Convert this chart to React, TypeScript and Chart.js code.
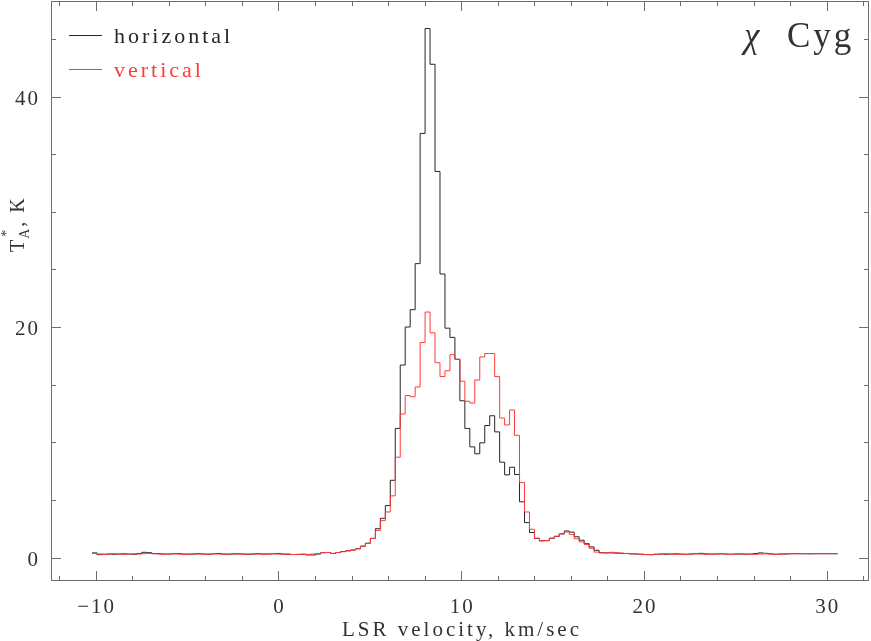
import React, { useEffect, useRef } from "react";
import { Chart, registerables } from "chart.js";

Chart.register(...registerables);

// Channel grid (km/s): left edge of first channel and channel width
const CH_START = -10.2;
const CH_WIDTH = 0.272;

// Antenna temperature T_A* (K), one value per channel
const horizontal = [
  0.40, 0.25, 0.28, 0.30, 0.28, 0.30, 0.32, 0.30, 0.28, 0.35,
  0.45, 0.42, 0.35, 0.33, 0.30, 0.30, 0.32, 0.34, 0.30, 0.28,
  0.30, 0.33, 0.30, 0.28, 0.32, 0.35, 0.30, 0.28, 0.30, 0.32,
  0.30, 0.28, 0.30, 0.33, 0.30, 0.30, 0.32, 0.35, 0.30, 0.28,
  0.26, 0.27, 0.28, 0.22, 0.22, 0.30, 0.42, 0.43, 0.35, 0.43,
  0.52, 0.58, 0.65, 0.76, 0.98, 1.24, 1.66, 2.5, 3.4, 4.5,
  6.7, 11.2, 16.7, 20.0, 21.5, 25.5, 36.8, 45.9, 42.8, 33.5,
  24.6, 19.9, 19.1, 17.2, 13.6, 11.2, 9.6, 9.0, 9.95, 11.45,
  12.3, 10.9, 8.27, 7.17, 7.83, 7.2, 4.83, 3.03, 2.17, 1.65,
  1.44, 1.46, 1.66, 1.83, 2.05, 2.3, 2.2, 1.8, 1.5, 1.2,
  0.92, 0.63, 0.42, 0.40, 0.40, 0.38, 0.36, 0.35, 0.32, 0.30,
  0.28, 0.25, 0.24, 0.28, 0.30, 0.28, 0.30, 0.32, 0.30, 0.28,
  0.30, 0.33, 0.36, 0.32, 0.30, 0.30, 0.32, 0.30, 0.28, 0.30,
  0.30, 0.28, 0.30, 0.35, 0.40, 0.36, 0.32, 0.28, 0.30, 0.30,
  0.32, 0.34, 0.33, 0.32, 0.32, 0.33, 0.33, 0.33, 0.33, 0.33,
];

const vertical = [
  0.35, 0.30, 0.28, 0.30, 0.32, 0.30, 0.28, 0.30, 0.32, 0.30,
  0.33, 0.35, 0.32, 0.30, 0.28, 0.30, 0.33, 0.30, 0.28, 0.30,
  0.32, 0.30, 0.28, 0.30, 0.32, 0.30, 0.28, 0.30, 0.33, 0.30,
  0.28, 0.30, 0.32, 0.30, 0.28, 0.30, 0.33, 0.30, 0.28, 0.30,
  0.26, 0.27, 0.28, 0.27, 0.30, 0.35, 0.42, 0.43, 0.36, 0.43,
  0.50, 0.58, 0.64, 0.75, 0.98, 1.22, 1.65, 2.35, 3.2, 3.95,
  5.35, 8.7, 12.45, 14.05, 13.95, 14.8, 18.65, 21.3, 19.5, 16.9,
  15.7, 16.2, 17.6, 17.2, 15.3, 13.56, 13.4, 15.4, 17.4, 17.7,
  17.7, 15.7, 12.1, 11.5, 12.8, 10.6, 6.5, 3.95, 2.45, 1.68,
  1.47, 1.48, 1.68, 1.85, 2.05, 2.22, 2.0, 1.62, 1.35, 1.13,
  0.8, 0.47, 0.40, 0.40, 0.45, 0.42, 0.38, 0.35, 0.32, 0.30,
  0.28, 0.26, 0.26, 0.28, 0.30, 0.32, 0.30, 0.28, 0.26, 0.28,
  0.30, 0.32, 0.30, 0.28, 0.28, 0.30, 0.32, 0.30, 0.28, 0.30,
  0.32, 0.30, 0.28, 0.28, 0.30, 0.32, 0.30, 0.28, 0.30, 0.32,
  0.33, 0.32, 0.33, 0.34, 0.33, 0.33, 0.33, 0.33, 0.33, 0.33,
];

const X_TICK_LABELS = [-10, 0, 10, 20, 30];
const Y_TICK_LABELS = [0, 20, 40];
const X_MIN = -12.446;
const X_MAX = 32.315;
const Y_MIN = -2.039;
const Y_MAX = 48.29;

const SERIES_NAMES = ["horizontal", "vertical"];
const COLORS = ["#262626", "#ff3a3a"];
const AXIS_COLOR = "#6e6e6e";
const TEXT_COLOR = "#333333";
const FONT = '"Liberation Serif", "DejaVu Serif", serif';

function toSteps(values: number[]) {
  const pts = values.map((y, i) => ({ x: CH_START + i * CH_WIDTH, y }));
  pts.push({ x: CH_START + values.length * CH_WIDTH, y: values[values.length - 1] });
  return pts;
}

const decorPlugin = {
  id: "decor",
  afterDraw(chart: any) {
    const ctx = chart.ctx as CanvasRenderingContext2D;
    const { left, right, top, bottom } = chart.chartArea;
    const xs = chart.scales.x;
    const ys = chart.scales.y;
    ctx.save();
    // frame
    ctx.strokeStyle = AXIS_COLOR;
    ctx.lineWidth = 1;
    ctx.strokeRect(left + 0.5, top + 0.5, right - left - 1, bottom - top - 1);
    // x ticks (minor every 2, major every 10) on bottom and top
    ctx.beginPath();
    for (let v = -12; v <= 32; v += 2) {
      const px = Math.round(xs.getPixelForValue(v)) + 0.5;
      const len = v % 10 === 0 ? 10 : 5;
      ctx.moveTo(px, bottom);
      ctx.lineTo(px, bottom - len);
      ctx.moveTo(px, top);
      ctx.lineTo(px, top + len);
    }
    // y ticks (minor every 5, major every 20) on left and right
    for (let v = 0; v <= 45; v += 5) {
      const py = Math.round(ys.getPixelForValue(v)) + 0.5;
      const len = v % 20 === 0 ? 10 : 5;
      ctx.moveTo(left, py);
      ctx.lineTo(left + len, py);
      ctx.moveTo(right, py);
      ctx.lineTo(right - len, py);
    }
    ctx.stroke();

    // tick labels
    ctx.fillStyle = TEXT_COLOR;
    ctx.font = `21px ${FONT}`;
    (ctx as any).letterSpacing = "2px";
    ctx.textBaseline = "alphabetic";
    ctx.textAlign = "center";
    X_TICK_LABELS.forEach((v) => {
      const px = xs.getPixelForValue(v);
      const label = v < 0 ? "\u2212" + Math.abs(v) : String(v);
      ctx.fillText(label, px + 1, 613);
    });
    ctx.textAlign = "right";
    Y_TICK_LABELS.forEach((v) => {
      const py = ys.getPixelForValue(v);
      ctx.fillText(String(v), 40, py + 8);
    });

    // x axis title
    ctx.textAlign = "center";
    (ctx as any).letterSpacing = "3px";
    ctx.fillText("LSR velocity, km/sec", (left + right) / 2 + 2, 636);

    // y axis title: T_A^*, K rotated
    ctx.save();
    ctx.translate(24, 252);
    ctx.rotate(-Math.PI / 2);
    ctx.textAlign = "left";
    (ctx as any).letterSpacing = "0px";
    ctx.font = `20px ${FONT}`;
    ctx.fillText("T", 0, 0);
    const tw = ctx.measureText("T").width;
    ctx.font = `14px ${FONT}`;
    ctx.fillText("A", tw + 1, 5);
    ctx.fillText("*", tw + 3, -13);
    const aw = ctx.measureText("A").width;
    ctx.font = `20px ${FONT}`;
    (ctx as any).letterSpacing = "2px";
    ctx.fillText(", K", tw + aw + 3, 0);
    ctx.restore();

    // legend
    (ctx as any).letterSpacing = "3px";
    ctx.font = `22px ${FONT}`;
    ctx.textAlign = "left";
    SERIES_NAMES.forEach((name, i) => {
      const y = 34.5 + i * 34.5;
      ctx.strokeStyle = COLORS[i];
      ctx.beginPath();
      ctx.moveTo(69, Math.round(y) + 0.5);
      ctx.lineTo(102, Math.round(y) + 0.5);
      ctx.stroke();
      ctx.fillStyle = COLORS[i];
      ctx.fillText(name, 114, y + 8);
    });

    // title
    ctx.fillStyle = TEXT_COLOR;
    ctx.font = `italic 35px ${FONT}`;
    (ctx as any).letterSpacing = "0px";
    ctx.fillText("\u03c7", 744, 47);
    ctx.font = `35px ${FONT}`;
    (ctx as any).letterSpacing = "3px";
    ctx.fillText("Cyg", 787, 47);
    ctx.restore();
  },
};

export default function App() {
  const ref = useRef<HTMLCanvasElement | null>(null);
  useEffect(() => {
    if (!ref.current) return;
    const chart = new Chart(ref.current, {
      type: "line",
      data: {
        datasets: [
          {
            label: SERIES_NAMES[0],
            data: toSteps(horizontal),
            borderColor: COLORS[0],
            borderWidth: 1,
            pointRadius: 0,
            stepped: "before",
            fill: false,
            order: 1,
          },
          {
            label: SERIES_NAMES[1],
            data: toSteps(vertical),
            borderColor: COLORS[1],
            borderWidth: 1,
            pointRadius: 0,
            stepped: "before",
            fill: false,
            order: 0,
          },
        ],
      },
      options: {
        responsive: false,
        animation: false,
        layout: { padding: { top: 1, right: 2, left: 0, bottom: 0 } },
        plugins: { legend: { display: false }, tooltip: { enabled: false } },
        scales: {
          x: {
            type: "linear",
            min: X_MIN,
            max: X_MAX,
            grid: { display: false },
            border: { display: false },
            ticks: { display: false },
            afterFit: (s: any) => {
              s.height = 60;
            },
          },
          y: {
            type: "linear",
            min: Y_MIN,
            max: Y_MAX,
            grid: { display: false },
            border: { display: false },
            ticks: { display: false },
            afterFit: (s: any) => {
              s.width = 51;
            },
          },
        },
      },
      plugins: [decorPlugin],
    } as any);
    return () => chart.destroy();
  }, []);
  return (
    <div style={{ position: "fixed", left: 0, top: 0, width: 871, height: 641, background: "#fff" }}>
      <canvas ref={ref} width={871} height={641} style={{ display: "block" }} />
    </div>
  );
}
